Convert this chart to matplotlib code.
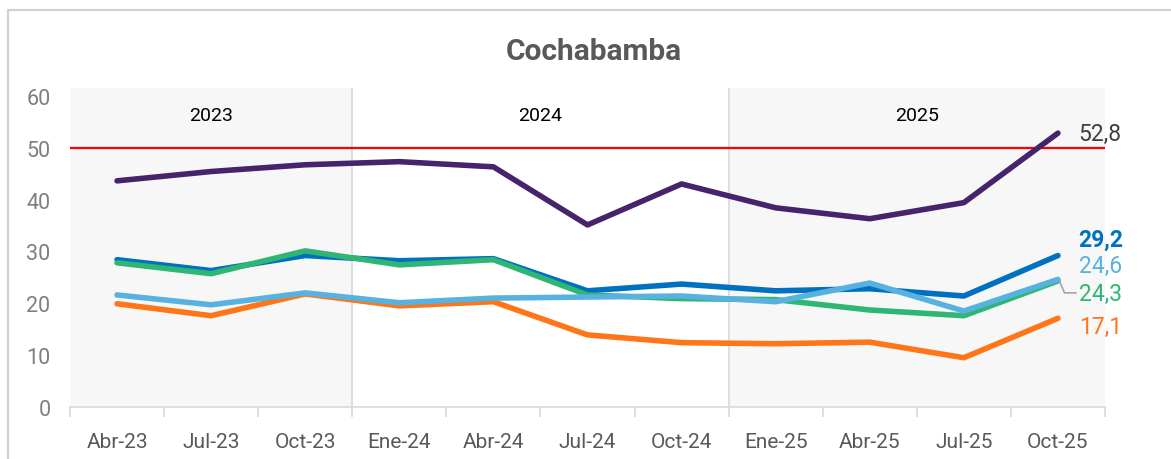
import numpy as np
import matplotlib.pyplot as plt
from matplotlib.patches import Rectangle

plt.rcParams['font.family'] = ['Roboto', 'DejaVu Sans']

periodos = ['Abr-23', 'Jul-23', 'Oct-23', 'Ene-24', 'Abr-24', 'Jul-24',
            'Oct-24', 'Ene-25', 'Abr-25', 'Jul-25', 'Oct-25']
anios = ['2023', '2024', '2025']
anio_n = [3, 4, 4]  # trimestres por año

morado = [43.6, 45.4, 46.7, 47.3, 46.3, 35.1, 43.0, 38.4, 36.3, 39.4, 52.8]
azul = [28.4, 26.3, 29.2, 28.2, 28.6, 22.4, 23.7, 22.4, 22.8, 21.4, 29.2]
verde = [27.8, 25.7, 30.1, 27.4, 28.4, 21.6, 20.9, 20.7, 18.7, 17.6, 24.3]
celeste = [21.6, 19.7, 22.0, 20.1, 21.0, 21.2, 21.4, 20.3, 23.9, 18.5, 24.6]
naranja = [19.9, 17.6, 21.8, 19.5, 20.3, 13.9, 12.4, 12.2, 12.5, 9.5, 17.1]
umbral = 50

fig = plt.figure(figsize=(11.71, 4.6), dpi=100)
ax = fig.add_axes([70 / 1171, 1 - 408 / 460, (1105 - 70) / 1171, (408 - 89) / 460])

# marco exterior
fig.patches.append(Rectangle((8 / 1171, -0.1), 1.2, 1 - 11 / 460 + 0.1,
                             transform=fig.transFigure, fill=False,
                             edgecolor='#d0d0d0', lw=1.5))

x = np.arange(len(periodos))
ymax = 61.5

# bandas por año
inicio = -0.5
for i, (a, n) in enumerate(zip(anios, anio_n)):
    if i % 2 == 0:
        ax.axvspan(inicio, inicio + n, color='#f7f7f7', lw=0, zorder=0)
    if i > 0:
        ax.axvline(inicio, color='#d9d9d9', lw=1.2, zorder=1)
    ax.text(inicio + n / 2, 56.2, a, ha='center', va='center', fontsize=14,
            color='black')
    inicio += n

ax.axhline(umbral, color='#ff0000', lw=1.6, zorder=2)

ax.plot(x, naranja, color='#ff7518', lw=4, solid_capstyle='round', zorder=3)
ax.plot(x, azul, color='#0070c0', lw=4, solid_capstyle='round', zorder=3)
ax.plot(x, verde, color='#2fb574', lw=4, solid_capstyle='round', zorder=3)
ax.plot(x, celeste, color='#57b2e0', lw=4, solid_capstyle='round', zorder=3)
ax.plot(x, morado, color='#46236b', lw=4, solid_capstyle='round', zorder=3)

# etiquetas finales
def fmt(v):
    return f'{v:.1f}'.replace('.', ',')

xe = x[-1] + 0.22
ax.text(xe, morado[-1] - 0.1, fmt(morado[-1]), color='#404040',
        fontsize=16.5, va='center', ha='left')
ax.text(xe, azul[-1] + 3.2, fmt(azul[-1]), color='#0070c0',
        fontsize=16.5, fontweight='bold', va='center', ha='left')
ax.text(xe, celeste[-1] + 2.7, fmt(celeste[-1]), color='#57b2e0',
        fontsize=16.5, va='center', ha='left')
ax.text(xe, verde[-1] - 2.5, fmt(verde[-1]), color='#2fb574',
        fontsize=16.5, va='center', ha='left')
ax.text(xe, naranja[-1] - 1.5, fmt(naranja[-1]), color='#ff7518',
        fontsize=16.5, va='center', ha='left')
ax.plot([x[-1] + 0.02, x[-1] + 0.07, x[-1] + 0.19],
        [verde[-1] - 0.2, verde[-1] - 2.3, verde[-1] - 2.3],
        color='#a6a6a6', lw=1.2, clip_on=False, zorder=4)

ax.set_xlim(-0.5, len(periodos) - 0.5)
ax.set_ylim(0, ymax)
ax.set_xticks(x)
ax.set_xticklabels(periodos)
ax.set_xticks(np.arange(-0.5, len(periodos)), minor=True)
ax.tick_params(axis='x', which='major', length=0, pad=18, labelsize=15,
               labelcolor='#595959')
ax.tick_params(axis='x', which='minor', length=7, color='#d9d9d9', width=1.2)
ax.set_yticks(np.arange(0, 61, 10))
ax.tick_params(axis='y', length=0, pad=14, labelsize=15.5, labelcolor='#7f7f7f')
for lado in ['top', 'right', 'left']:
    ax.spines[lado].set_visible(False)
ax.spines['bottom'].set_color('#d9d9d9')
ax.spines['bottom'].set_linewidth(1.2)
ax.set_facecolor('white')

fig.text(594 / 1171, 1 - 52 / 460, 'Cochabamba', ha='center', va='center',
         fontsize=21.5, fontweight='bold', color='#595959')

plt.savefig('out.png', dpi=100)
